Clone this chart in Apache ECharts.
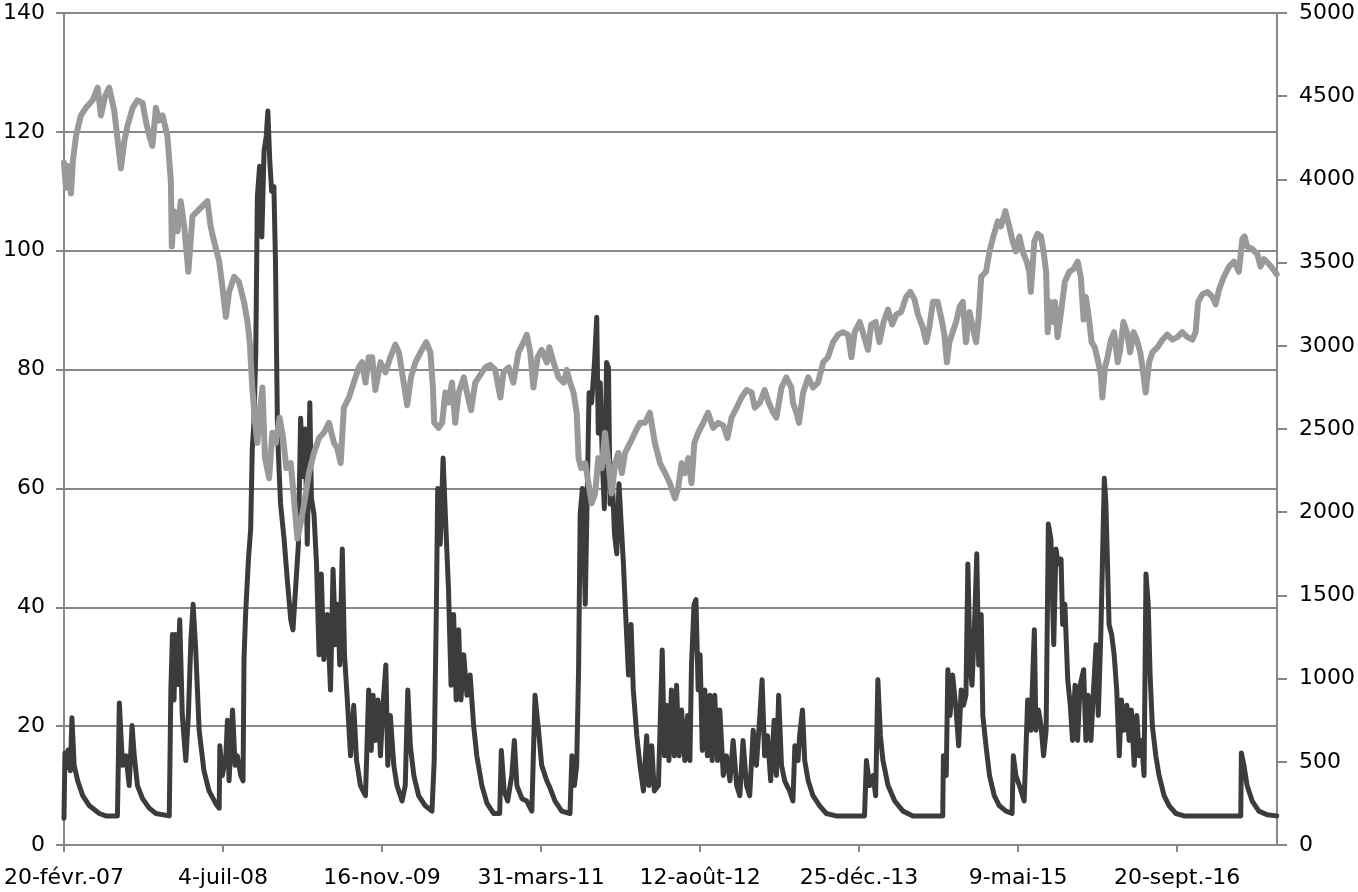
<!DOCTYPE html>
<html>
<head>
<meta charset="utf-8">
<title>Volatilité et indice</title>
<script src="https://cdn.jsdelivr.net/npm/echarts@6/dist/echarts.min.js"></script>
<style>
  html, body { margin: 0; padding: 0; background: #fff; }
  #chart { width: 1358px; height: 892px; }
</style>
</head>
<body>
<div id="chart"></div>
<script>
// x = days since 20-févr.-07
var xTickLabels = ['20-févr.-07', '4-juil-08', '16-nov.-09', '31-mars-11', '12-août-12',
  '25-déc.-13', '9-mai-15', '20-sept.-16'];

// dark line, left axis
var volatility = [
  [0, 4.5], [3, 15.5], [8, 13], [13, 16], [20, 12.5], [25, 21.4], [32, 13.4], [43, 10.8],
  [59, 8.3], [80, 6.6], [111, 5.3], [132, 4.9], [168, 4.9], [174, 23.9], [184, 13.4],
  [195, 15], [205, 10], [214, 20.1], [221, 15], [231, 10], [247, 7.8], [268, 6.2],
  [289, 5.3], [331, 4.9], [336, 26], [341, 35.4], [346, 24.4], [350, 35.4], [357, 27],
  [364, 37.9], [372, 21.8], [383, 14.2], [391, 21.8], [399, 34.5], [406, 40.5], [414, 33],
  [425, 19.3], [440, 12.5], [456, 9.1], [477, 7], [488, 6.2], [490, 16.7], [498, 11.7],
  [509, 15], [514, 21], [519, 10.8], [530, 22.7], [538, 13.4], [545, 15], [556, 11.7],
  [563, 10.8], [566, 31.2], [571, 38.8], [580, 48.1], [587, 53.2], [592, 66.7], [597, 71],
  [603, 82.8], [608, 109.1], [615, 114.2], [622, 102.3], [629, 116.7], [636, 119.3],
  [641, 123.5], [647, 115.1], [653, 110], [660, 110.8], [665, 98.1], [671, 71], [674, 65.9],
  [681, 57.4], [692, 51.5], [702, 44.7], [713, 37.9], [720, 36.2], [728, 43], [737, 50.6],
  [744, 71.8], [752, 62], [758, 70], [765, 50.6], [773, 74.4], [778, 58.3], [786, 55.7],
  [794, 47.3], [802, 32], [809, 45.6], [817, 31.2], [828, 38.8], [838, 26.1], [846, 46.4],
  [854, 33.7], [861, 40.5], [867, 30.3], [875, 49.8], [882, 32], [890, 25.2], [901, 15],
  [911, 23.5], [920, 14.2], [932, 10], [948, 8.3], [958, 26.1], [966, 15.9], [972, 25.2],
  [979, 17.6], [987, 24.4], [995, 15], [1003, 23.5], [1012, 30.3], [1018, 13.4], [1026, 21.8],
  [1037, 13.4], [1047, 10], [1063, 7.4], [1073, 10], [1081, 26.1], [1089, 16.7], [1100, 11.7],
  [1115, 8.3], [1136, 6.6], [1157, 5.7], [1164, 14.2], [1171, 40.5], [1175, 60], [1183, 50.6],
  [1192, 65.1], [1199, 55.7], [1209, 43], [1217, 26.9], [1225, 38.8], [1233, 24.4],
  [1241, 36.2], [1248, 24.4], [1257, 32], [1267, 25.2], [1277, 28.6], [1288, 20.1],
  [1298, 15], [1314, 10], [1330, 7], [1351, 5.3], [1370, 5.3], [1375, 15.9], [1384, 9.1],
  [1395, 7.4], [1408, 11.7], [1416, 17.6], [1424, 10], [1440, 7.8], [1455, 7.4], [1471, 5.7],
  [1481, 25.2], [1492, 19.3], [1502, 13.4], [1518, 10.8], [1529, 9.5], [1544, 7.4],
  [1565, 5.7], [1591, 5.3], [1597, 15], [1605, 10], [1612, 13.4], [1618, 29.5], [1623, 55.7],
  [1630, 60], [1639, 40.5], [1644, 55.7], [1651, 76.1], [1659, 74.4], [1668, 81.2],
  [1675, 88.8], [1680, 69.3], [1686, 77.8], [1693, 64.2], [1699, 56.6], [1706, 81.2],
  [1712, 80.3], [1717, 57.4], [1722, 64.2], [1731, 52.3], [1738, 49], [1745, 60.8],
  [1752, 54], [1759, 47.3], [1766, 38.8], [1775, 28.6], [1783, 37.1], [1790, 26.1],
  [1801, 18.4], [1811, 13.4], [1822, 9.1], [1832, 18.4], [1839, 10], [1848, 16.7],
  [1856, 9.1], [1869, 10], [1874, 19.3], [1881, 32.8], [1888, 15], [1895, 23.5], [1902, 14.2],
  [1910, 26.1], [1919, 15], [1926, 26.9], [1934, 15], [1942, 22.7], [1952, 14.2], [1961, 21.8],
  [1968, 14.2], [1973, 30.3], [1981, 40.5], [1987, 41.3], [1994, 26.1], [2000, 32],
  [2007, 15.9], [2015, 26.1], [2023, 15], [2031, 25.2], [2038, 14.2], [2046, 25.2],
  [2055, 14.2], [2062, 22.7], [2073, 11.7], [2083, 15], [2094, 10.8], [2104, 17.6], [2115, 10],
  [2125, 8.3], [2135, 17.6], [2146, 10], [2156, 8.3], [2167, 19.3], [2177, 13.4], [2188, 21.8],
  [2195, 27.8], [2203, 15], [2212, 18.4], [2222, 10.8], [2233, 21], [2240, 11.7], [2247, 25.2],
  [2256, 13.4], [2266, 10.8], [2282, 9], [2292, 7.4], [2298, 16.7], [2308, 14.2], [2313, 18.4],
  [2322, 22.7], [2329, 14.2], [2340, 10.8], [2355, 8.3], [2376, 6.6], [2397, 5.3], [2428, 4.9],
  [2517, 4.9], [2523, 14.2], [2533, 10], [2544, 11.7], [2552, 8.3], [2559, 27.8], [2567, 18.4],
  [2575, 14.2], [2591, 10], [2612, 7.4], [2638, 5.7], [2669, 4.9], [2763, 4.9], [2765, 15],
  [2774, 11.7], [2779, 29.5], [2786, 21.8], [2794, 28.6], [2805, 22.7], [2813, 16.7],
  [2821, 26.1], [2828, 23.5], [2836, 25.2], [2842, 47.3], [2849, 30.3], [2855, 26.9],
  [2863, 37.1], [2870, 49], [2876, 30.3], [2884, 38.8], [2889, 21.8], [2899, 16.7],
  [2910, 11.7], [2925, 8.3], [2941, 6.6], [2962, 5.7], [2981, 5.3], [2985, 15], [2993, 11.7],
  [3004, 10], [3019, 7.4], [3030, 24.4], [3040, 19.3], [3051, 36.2], [3056, 19.3],
  [3064, 22.7], [3072, 20.1], [3080, 15], [3088, 19.3], [3095, 54], [3103, 51.5], [3112, 33.7],
  [3119, 49.8], [3126, 47.3], [3135, 48.1], [3140, 37.1], [3147, 40.5], [3156, 27.8],
  [3164, 23.5], [3171, 17.6], [3179, 26.9], [3187, 17.6], [3195, 26.9], [3206, 29.5],
  [3213, 17.6], [3220, 25.2], [3229, 17.6], [3237, 26.1], [3245, 33.7], [3252, 21.8],
  [3260, 35.4], [3265, 47.3], [3271, 61.7], [3276, 57.4], [3281, 47.3], [3286, 37.1],
  [3294, 35.4], [3302, 32], [3310, 26.1], [3318, 15], [3325, 24.4], [3333, 19.3], [3342, 23.5],
  [3349, 17.6], [3356, 22.7], [3365, 13.4], [3373, 21.8], [3381, 15], [3388, 17.6],
  [3396, 11.7], [3402, 45.6], [3409, 40.5], [3415, 28.6], [3422, 20.1], [3433, 15],
  [3443, 11.7], [3459, 8.3], [3475, 6.6], [3496, 5.3], [3522, 4.9], [3700, 4.9], [3702, 15.5],
  [3710, 13.4], [3720, 10], [3736, 7.4], [3757, 5.7], [3783, 5.1], [3813, 4.9]
];

// grey line, right axis
var stockIndex = [
  [0, 4100], [6, 3950], [12, 4080], [22, 3915], [28, 4112], [38, 4263], [53, 4384], [69, 4430],
  [90, 4475], [106, 4551], [116, 4384], [130, 4505], [142, 4551], [158, 4414], [168, 4248],
  [179, 4066], [190, 4233], [200, 4324], [216, 4430], [231, 4475], [247, 4460], [257, 4354],
  [268, 4263], [278, 4202], [289, 4430], [299, 4354], [310, 4384], [325, 4263], [336, 3990],
  [339, 3597], [346, 3809], [357, 3688], [367, 3869], [378, 3718], [391, 3445], [404, 3779],
  [420, 3809], [435, 3839], [451, 3869], [461, 3718], [472, 3627], [488, 3506], [498, 3355],
  [509, 3173], [519, 3324], [535, 3415], [550, 3385], [566, 3264], [577, 3143], [584, 3022],
  [592, 2750], [601, 2537], [608, 2416], [615, 2598], [624, 2749], [632, 2325], [645, 2204],
  [655, 2477], [666, 2416], [678, 2568], [689, 2446], [699, 2265], [713, 2295], [723, 2083],
  [734, 1841], [744, 1932], [758, 2083], [770, 2235], [786, 2356], [802, 2446], [817, 2477],
  [833, 2537], [849, 2416], [859, 2386], [870, 2295], [880, 2628], [896, 2689], [911, 2779],
  [927, 2870], [937, 2901], [948, 2779], [958, 2931], [969, 2931], [979, 2734], [995, 2901],
  [1011, 2840], [1026, 2931], [1042, 3007], [1053, 2961], [1068, 2779], [1079, 2643],
  [1091, 2810], [1105, 2901], [1121, 2961], [1139, 3022], [1152, 2961], [1160, 2749],
  [1164, 2537], [1178, 2507], [1189, 2537], [1199, 2719], [1209, 2658], [1220, 2779],
  [1230, 2537], [1241, 2719], [1257, 2810], [1267, 2719], [1280, 2613], [1293, 2779],
  [1309, 2825], [1325, 2870], [1340, 2885], [1356, 2855], [1372, 2689], [1382, 2840],
  [1398, 2870], [1413, 2779], [1429, 2961], [1445, 3022], [1455, 3067], [1466, 2961],
  [1476, 2749], [1489, 2931], [1502, 2976], [1518, 2900], [1526, 2991], [1539, 2901],
  [1555, 2810], [1571, 2779], [1581, 2855], [1591, 2779], [1602, 2719], [1612, 2598],
  [1618, 2325], [1626, 2265], [1639, 2295], [1649, 2174], [1659, 2053], [1670, 2113],
  [1680, 2325], [1691, 2265], [1701, 2477], [1712, 2295], [1722, 2113], [1733, 2295],
  [1743, 2356], [1754, 2235], [1764, 2356], [1780, 2416], [1795, 2477], [1811, 2537],
  [1827, 2537], [1842, 2598], [1858, 2416], [1874, 2295], [1890, 2235], [1905, 2174],
  [1921, 2083], [1931, 2144], [1942, 2295], [1952, 2235], [1963, 2325], [1973, 2174],
  [1982, 2416], [1994, 2477], [2010, 2537], [2025, 2598], [2041, 2507], [2057, 2537],
  [2073, 2522], [2086, 2446], [2099, 2568], [2115, 2628], [2130, 2689], [2146, 2734],
  [2162, 2719], [2172, 2628], [2188, 2658], [2203, 2734], [2216, 2658], [2230, 2598],
  [2240, 2568], [2256, 2749], [2271, 2810], [2287, 2749], [2292, 2658], [2303, 2598],
  [2311, 2537], [2324, 2719], [2340, 2810], [2355, 2749], [2371, 2779], [2387, 2901],
  [2402, 2931], [2418, 3022], [2434, 3067], [2449, 3082], [2465, 3067], [2476, 2931],
  [2486, 3082], [2502, 3143], [2514, 3067], [2528, 2976], [2538, 3128], [2552, 3143],
  [2564, 3022], [2577, 3143], [2591, 3218], [2604, 3128], [2617, 3188], [2632, 3203],
  [2648, 3294], [2661, 3324], [2674, 3279], [2685, 3188], [2700, 3112], [2711, 3022],
  [2721, 3112], [2732, 3264], [2747, 3264], [2761, 3143], [2768, 3067], [2776, 2901],
  [2784, 3022], [2794, 3082], [2805, 3143], [2816, 3234], [2826, 3264], [2836, 3022],
  [2847, 3203], [2857, 3112], [2868, 3022], [2876, 3173], [2884, 3415], [2899, 3445],
  [2910, 3567], [2922, 3657], [2936, 3748], [2946, 3718], [2960, 3809], [2972, 3718],
  [2983, 3627], [2993, 3567], [3004, 3657], [3014, 3567], [3027, 3506], [3035, 3445],
  [3040, 3324], [3051, 3627], [3061, 3673], [3072, 3657], [3080, 3567], [3088, 3445],
  [3093, 3082], [3101, 3264], [3109, 3143], [3116, 3264], [3124, 3052], [3135, 3203],
  [3147, 3385], [3161, 3445], [3174, 3461], [3187, 3506], [3197, 3415], [3206, 3158],
  [3213, 3294], [3224, 3143], [3231, 3022], [3241, 2991], [3252, 2901], [3260, 2825],
  [3265, 2689], [3273, 2870], [3281, 2931], [3292, 3037], [3302, 3082], [3313, 2901],
  [3321, 2976], [3331, 3143], [3342, 3082], [3352, 2961], [3363, 3082], [3373, 3037],
  [3384, 2961], [3391, 2870], [3401, 2719], [3412, 2901], [3422, 2961], [3438, 2991],
  [3454, 3037], [3469, 3067], [3485, 3037], [3501, 3052], [3516, 3082], [3532, 3052],
  [3548, 3037], [3558, 3082], [3566, 3264], [3579, 3309], [3595, 3324], [3611, 3294],
  [3621, 3249], [3632, 3340], [3647, 3415], [3663, 3476], [3679, 3506], [3694, 3445],
  [3705, 3642], [3712, 3657], [3720, 3597], [3736, 3582], [3752, 3551], [3762, 3476],
  [3773, 3521], [3789, 3491], [3802, 3461], [3813, 3430]
];

var lastDay = 3814;
var axisGrey = '#888888';
var labelFont = { color: '#000', fontFamily: 'DejaVu Sans', fontSize: 22 };

var myChart = echarts.init(document.getElementById('chart'));
myChart.setOption({
  animation: false,
  backgroundColor: '#fff',
  grid: { left: 63, right: 80, top: 13, bottom: 47 },
  xAxis: {
    type: 'value',
    min: 0,
    max: lastDay,
    interval: 500,
    axisLine: { lineStyle: { color: axisGrey, width: 2 } },
    axisTick: { length: 7, lineStyle: { color: axisGrey, width: 2 } },
    splitLine: { show: false },
    axisLabel: Object.assign({
      margin: 22,
      showMaxLabel: false,
      formatter: function (v) {
        return v % 500 === 0 ? (xTickLabels[v / 500] || '') : '';
      }
    }, labelFont)
  },
  yAxis: [
    {
      type: 'value',
      min: 0,
      max: 140,
      interval: 20,
      axisLine: { show: true, lineStyle: { color: axisGrey, width: 2 } },
      axisTick: { show: true, length: 8, lineStyle: { color: axisGrey, width: 2 } },
      splitLine: { lineStyle: { color: axisGrey, width: 2 } },
      axisLabel: Object.assign({ margin: 19 }, labelFont)
    },
    {
      type: 'value',
      min: 0,
      max: 5000,
      interval: 500,
      position: 'right',
      axisLine: { show: true, lineStyle: { color: axisGrey, width: 2 } },
      axisTick: { show: true, length: 10, lineStyle: { color: axisGrey, width: 2 } },
      splitLine: { show: false },
      axisLabel: Object.assign({
        margin: 22,
        formatter: function (v) { return String(v); }
      }, labelFont)
    }
  ],
  series: [
    {
      name: 'Volatilité',
      type: 'line',
      yAxisIndex: 0,
      data: volatility,
      showSymbol: false,
      lineStyle: { color: '#3c3c3c', width: 5, join: 'round', cap: 'round' },
      z: 2
    },
    {
      name: 'Indice',
      type: 'line',
      yAxisIndex: 1,
      data: stockIndex,
      showSymbol: false,
      lineStyle: { color: '#999999', width: 6, join: 'round', cap: 'round' },
      z: 3
    }
  ]
});
</script>
</body>
</html>
